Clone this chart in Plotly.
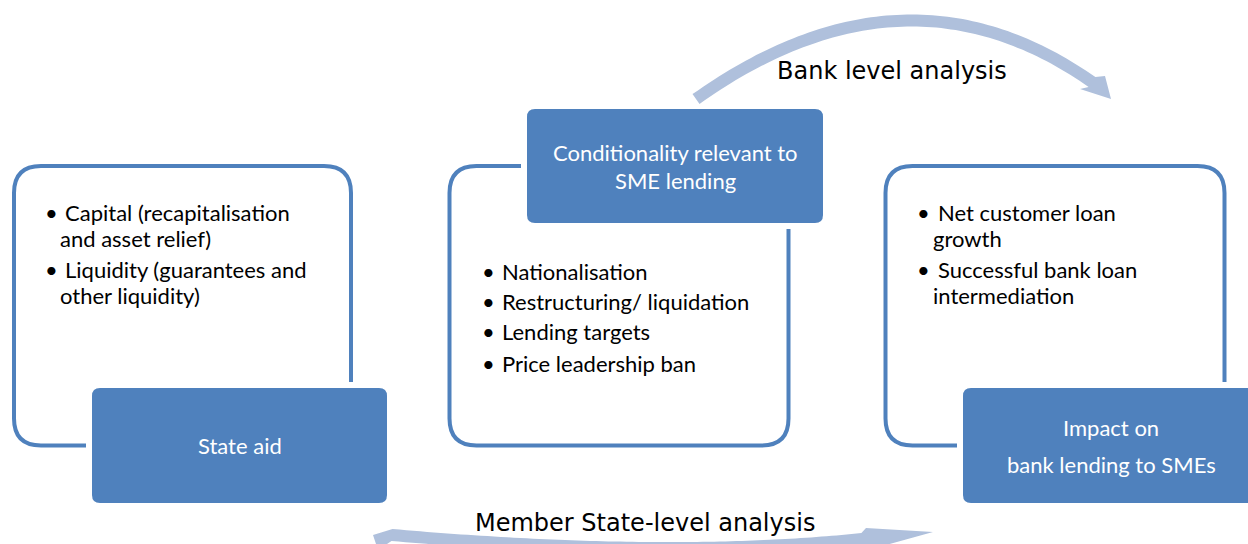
import numpy as np
import plotly.graph_objects as go

# ---------------- content (text data) ----------------
left_lines = ["Capital (recapitalisation", "and asset relief)", "Liquidity (guarantees and", "other liquidity)"]
left_bullets = [True, False, True, False]
center_lines = ["Nationalisation", "Restructuring/ liquidation", "Lending targets", "Price leadership ban"]
center_bullets = [True, True, True, True]
right_lines = ["Net customer loan", "growth", "Successful bank loan", "intermediation"]
right_bullets = [True, False, True, False]
box_titles = [["State aid"], ["Conditionality relevant to", "SME lending"], ["Impact on", "bank lending to SMEs"]]
arrow_labels = ["Bank level analysis", "Member State-level analysis"]

# ---------------- layout geometry (pixels) ----------------
W, H = 1248, 544
BLUE = "#4F81BD"
LIGHT = "#AFC0DC"
BODY_FONT = "Lato"
ARROW_FONT = "DejaVu Sans"
BODY_SIZE = 22
ARROW_SIZE = 24

frames = [(14, 166, 351, 445.5), (449.5, 166, 788.5, 445.5), (885.5, 166, 1224.5, 445.5)]
boxes = [(92, 388, 387, 503), (527, 109, 823, 223), (963, 388, 1262, 503)]
box_text_x = [240, 675, 1111]
box_text_y = [[445], [152, 180], [427, 464]]

left_lay = dict(bx=51, tx=63, cx=58, ys=[212, 238, 269, 295])
center_lay = dict(bx=488, tx=500, cx=500, ys=[271.5, 301.5, 331.5, 363.5])
right_lay = dict(bx=923, tx=936, cx=931, ys=[212, 238, 269, 295])


def rrect(x0, y0, x1, y1, r):
    return (f"M {x0+r},{y0} L {x1-r},{y0} Q {x1},{y0} {x1},{y0+r} "
            f"L {x1},{y1-r} Q {x1},{y1} {x1-r},{y1} L {x0+r},{y1} "
            f"Q {x0},{y1} {x0},{y1-r} L {x0},{y0+r} Q {x0},{y0} {x0+r},{y0} Z")


def band(P0, P1, P2, hw, n=80):
    P0, P1, P2 = map(np.array, (P0, P1, P2))
    t = np.linspace(0, 1, n)[:, None]
    B = (1 - t) ** 2 * P0 + 2 * t * (1 - t) * P1 + t ** 2 * P2
    D = 2 * (1 - t) * (P1 - P0) + 2 * t * (P2 - P1)
    D = D / np.linalg.norm(D, axis=1, keepdims=True)
    N = np.column_stack([D[:, 1], -D[:, 0]])
    return B + hw * N, B - hw * N


def poly_path(pts):
    s = "M " + " L ".join(f"{x:.1f},{y:.1f}" for x, y in pts)
    return s + " Z"


shapes = []
# outline frames
for (x0, y0, x1, y1) in frames:
    shapes.append(dict(type="path", path=rrect(x0, y0, x1, y1, 27), xref="x", yref="y",
                       line=dict(color=BLUE, width=4), fillcolor="rgba(0,0,0,0)"))
# white masks + filled boxes
for (x0, y0, x1, y1) in boxes:
    shapes.append(dict(type="path", path=rrect(x0 - 6, y0 - 6, x1 + 6, y1 + 6, 12), xref="x", yref="y",
                       line=dict(width=0), fillcolor="white"))
    shapes.append(dict(type="path", path=rrect(x0, y0, x1, y1, 8), xref="x", yref="y",
                       line=dict(width=0), fillcolor=BLUE))

# top curved arrow
outer, inner = band((696, 99), (905, -49), (1092, 82), 6)
pts = list(outer) + [(1105, 76), (1111, 99), (1080, 89)] + list(inner[::-1])
shapes.append(dict(type="path", path=poly_path(pts), xref="x", yref="y",
                   line=dict(width=0), fillcolor=LIGHT))

# bottom curved arrow
outer, inner = band((392, 535), (668, 559), (862, 539), 6)
pts = [(373, 535)] + list(outer) + [(866, 528), (933, 532), (868, 550)] + list(inner[::-1]) + [(378, 550)]
shapes.append(dict(type="path", path=poly_path(pts), xref="x", yref="y",
                   line=dict(width=0), fillcolor=LIGHT))

annotations = []


def add_list(lines, bullets, lay):
    for txt, b, y in zip(lines, bullets, lay["ys"]):
        if b:
            annotations.append(dict(x=lay["bx"], y=y, text="•", xanchor="center", yanchor="middle",
                                    showarrow=False, font=dict(family=BODY_FONT, size=BODY_SIZE, color="black")))
        annotations.append(dict(x=lay["tx"] if b else lay["cx"], y=y, text=txt, xanchor="left",
                                yanchor="middle", showarrow=False,
                                font=dict(family=BODY_FONT, size=BODY_SIZE, color="black")))


add_list(left_lines, left_bullets, left_lay)
add_list(center_lines, center_bullets, center_lay)
add_list(right_lines, right_bullets, right_lay)

for lines, x, ys in zip(box_titles, box_text_x, box_text_y):
    for txt, y in zip(lines, ys):
        annotations.append(dict(x=x, y=y, text=txt, xanchor="center", yanchor="middle", showarrow=False,
                                font=dict(family=BODY_FONT, size=BODY_SIZE, color="white")))

annotations.append(dict(x=892, y=71, text=arrow_labels[0], xanchor="center", yanchor="middle",
                        showarrow=False, font=dict(family=ARROW_FONT, size=ARROW_SIZE, color="black")))
annotations.append(dict(x=645, y=523, text=arrow_labels[1], xanchor="center", yanchor="middle",
                        showarrow=False, font=dict(family=ARROW_FONT, size=ARROW_SIZE, color="black")))

fig = go.Figure(go.Scatter(x=[], y=[]))
fig.update_layout(
    width=W, height=H, autosize=False,
    margin=dict(l=0, r=0, t=0, b=0),
    paper_bgcolor="white", plot_bgcolor="white",
    xaxis=dict(range=[0, W], visible=False, fixedrange=True),
    yaxis=dict(range=[H, 0], visible=False, fixedrange=True),
    shapes=shapes, annotations=annotations, showlegend=False,
)
fig.write_html("out.html", config={"displayModeBar": False},
               post_script="document.body.style.margin='0';document.body.style.overflow='hidden';")
